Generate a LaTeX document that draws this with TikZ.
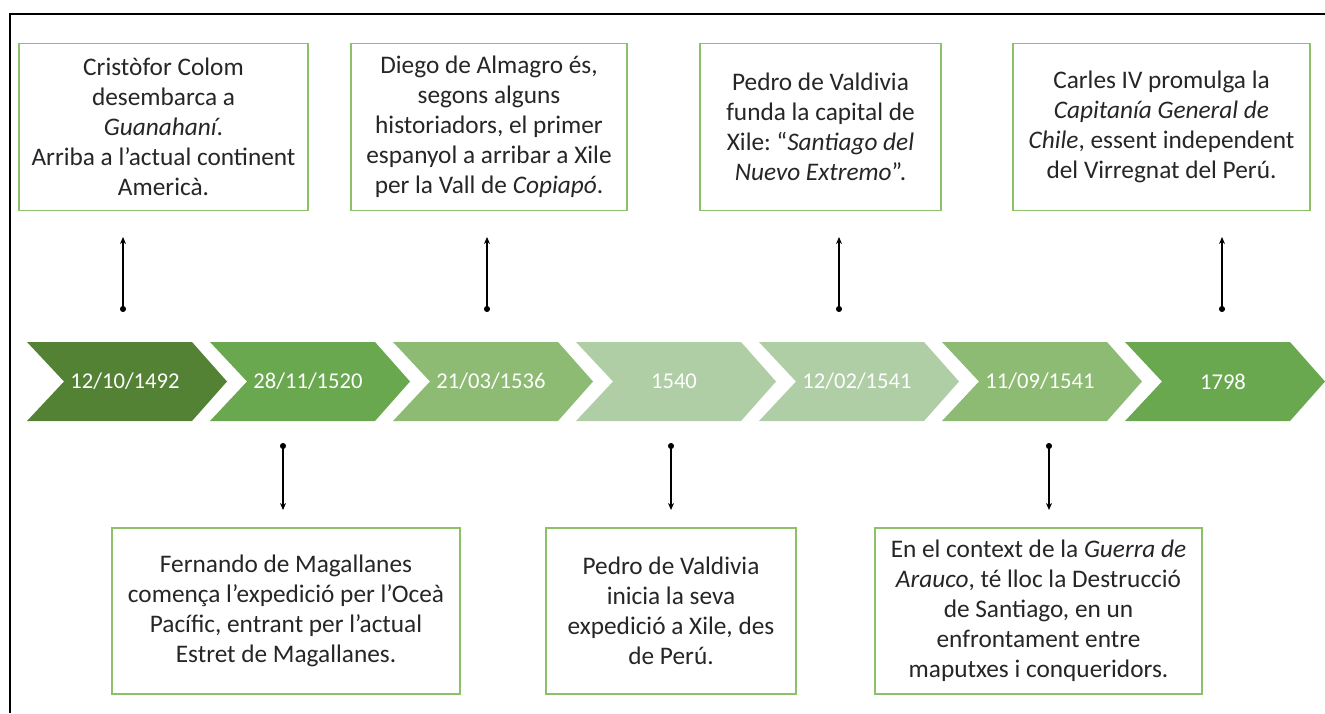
\documentclass[tikz,border=0pt]{standalone}
\usepackage{fontspec}
\setmainfont{Carlito}
\frenchspacing
\usetikzlibrary{arrows.meta}
\definecolor{gA}{HTML}{548235}
\definecolor{gB}{HTML}{6AA84F}
\definecolor{gC}{HTML}{8DBB74}
\definecolor{gD}{HTML}{B0CEA5}
\definecolor{boxgreen}{HTML}{8CC168}
\definecolor{txt}{HTML}{262626}
\tikzset{
  evbox/.style={draw=boxgreen, line width=1.3pt, fill=white, inner sep=0pt, text=txt,
    font=\fontsize{25.3}{30}\selectfont, align=center},
  datelbl/.style={text=white, font=\fontsize{22.6}{26}\selectfont, inner sep=0pt},
  conn/.style={line width=1.1pt, black, {Circle[length=6pt]}-{Stealth[length=7pt,width=6pt]}},
  frame/.style={line width=1.8pt, black}
}
\newcommand{\chev}[4]{% left x, colour, name, text
  \fill[#2] (#1,342) -- ++(165,0) -- ++(35,39.5) -- ++(-35,39.5) -- ++(-165,0) -- ++(37,-39.5) -- cycle;
  \node[datelbl] (#3) at ({#1+98},381.5) {#4};
}
\begin{document}
\begin{tikzpicture}[x=1pt,y=-1pt]
\useasboundingbox (0,0) rectangle (1325,713);
\fill[white] (0,0) rectangle (1325,713);
\draw[frame] (10,713) -- (10,14) -- (1326,14);

% chevrons
\chev{27}{gA}{c1}{12/10/1492}
\chev{210}{gB}{c2}{28/11/1520}
\chev{393}{gC}{c3}{21/03/1536}
\chev{576}{gD}{c4}{1540}
\chev{759}{gD}{c5}{12/02/1541}
\chev{942}{gC}{c6}{11/09/1541}
\chev{1125}{gB}{c7}{1798}

% top boxes
\node[evbox, minimum width=289pt, minimum height=167pt] (b1) at (163.5,127) {Cristòfor Colom\\desembarca a\\\textit{Guanahaní}.\\Arriba a l’actual continent\\Americà.};
\node[evbox, minimum width=276pt, minimum height=167pt] (b2) at (489,127) {Diego de Almagro és,\\segons alguns\\historiadors, el primer\\espanyol a arribar a Xile\\per la Vall de \textit{Copiapó}.};
\node[evbox, minimum width=241pt, minimum height=167pt] (b3) at (820.5,127) {Pedro de Valdivia\\funda la capital de\\Xile: “\textit{Santiago del}\\\textit{Nuevo Extremo}”.};
\node[evbox, minimum width=297pt, minimum height=167pt] (b4) at (1161.5,127) {Carles IV promulga la\\\textit{Capitanía General de}\\\textit{Chile}, essent independent\\del Virregnat del Perú.};

% bottom boxes
\node[evbox, minimum width=348pt, minimum height=166pt] (b5) at (286,611) {Fernando de Magallanes\\comença l’expedició per l’Oceà\\Pacífic, entrant per l’actual\\Estret de Magallanes.};
\node[evbox, minimum width=250pt, minimum height=166pt] (b6) at (671,611) {Pedro de Valdivia\\inicia la seva\\expedició a Xile, des\\de Perú.};
\node[evbox, minimum width=327pt, minimum height=166pt] (b7) at (1038.5,611) {En el context de la \textit{Guerra de}\\\textit{Arauco}, té lloc la Destrucció\\de Santiago, en un\\enfrontament entre\\maputxes i conqueridors.};

% connector end points
\coordinate (d1) at (123,312);  \coordinate (t1) at (123,237);
\coordinate (d3) at (487,312);  \coordinate (t3) at (487,237);
\coordinate (d5) at (839,312);  \coordinate (t5) at (839,237);
\coordinate (d7) at (1222,312); \coordinate (t7) at (1222,237);
\coordinate (d2) at (283,443);  \coordinate (t2) at (283,510);
\coordinate (d4) at (671,443);  \coordinate (t4) at (671,510);
\coordinate (d6) at (1049,443); \coordinate (t6) at (1049,510);

\draw[conn] (d1) -- (t1);
\draw[conn] (d3) -- (t3);
\draw[conn] (d5) -- (t5);
\draw[conn] (d7) -- (t7);
\draw[conn] (d2) -- (t2);
\draw[conn] (d4) -- (t4);
\draw[conn] (d6) -- (t6);
\end{tikzpicture}
\end{document}
